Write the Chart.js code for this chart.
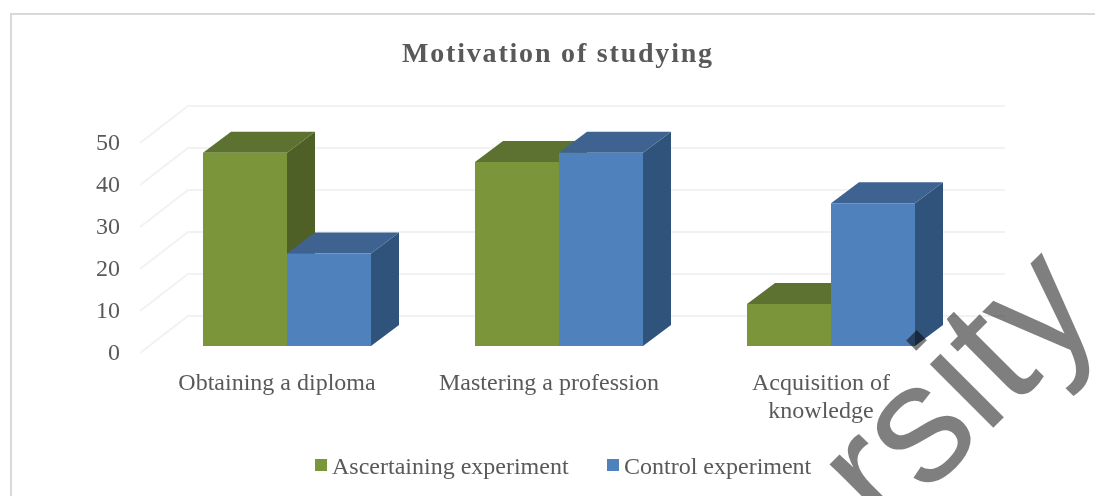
<!DOCTYPE html>
<html>
<head>
<meta charset="utf-8">
<title>Motivation of studying</title>
<script src="https://cdn.jsdelivr.net/npm/chart.js@4"></script>
<style>
    html, body { margin: 0; padding: 0; background: #fff; overflow: hidden; }
    #wrap { position: relative; width: 1095px; height: 496px; filter: blur(0.5px); }
    #chart { position: absolute; left: 0; top: 0; }
    #legend { position: absolute; left: 315px; top: 452px; font: 24px 'Liberation Serif', serif; color: #595959; white-space: nowrap; line-height: 28px; }
    #legend span { position: absolute; top: 0; }
    #legend i { position: absolute; width: 12px; height: 12px; top: 7px; }
</style>
</head>
<body>
<div id="wrap">
    <canvas id="chart" width="1095" height="496"></canvas>
    <div id="legend"></div>
</div>
<script>
const titleText = 'Motivation of studying';
const categories = ['Obtaining a diploma', 'Mastering a profession', ['Acquisition of', 'knowledge']];
const seriesNames = ['Ascertaining experiment', 'Control experiment'];
const ascertaining = [46, 43.8, 10];
const control = [22, 46, 34];
const yTicks = [0, 10, 20, 30, 40, 50];
const watermarkText = 'rsity';

const frontColors = ['#7a953a', '#4f81bd'];
const topColors = ['#5d7230', '#3e6390'];
const sideColors = ['#4e6026', '#30537c'];
const legendOffsets = [0, 292];

const depthX = 28, depthY = 21;

// side and top faces, the front face is the bar itself
const barDepth = {
    id: 'barDepth',
    beforeDatasetsDraw(chart) {
        const c = chart.ctx;
        chart.data.datasets.forEach((ds, i) => {
            chart.getDatasetMeta(i).data.forEach(bar => {
                const l = bar.x - bar.width / 2, r = bar.x + bar.width / 2;
                c.fillStyle = sideColors[i];
                c.beginPath();
                c.moveTo(r, bar.y);
                c.lineTo(r + depthX, bar.y - depthY);
                c.lineTo(r + depthX, bar.base - depthY);
                c.lineTo(r, bar.base);
                c.fill();
                c.fillStyle = topColors[i];
                c.beginPath();
                c.moveTo(l, bar.y);
                c.lineTo(l + depthX, bar.y - depthY);
                c.lineTo(r + depthX, bar.y - depthY);
                c.lineTo(r, bar.y);
                c.fill();
            });
        });
    }
};

// chart frame, back wall and side wall grid lines
const chartWalls = {
    id: 'chartWalls',
    beforeDraw(chart) {
        const c = chart.ctx, area = chart.chartArea, y = chart.scales.y;
        c.save();
        c.fillStyle = '#fff';
        c.fillRect(0, 0, chart.width, chart.height);
        c.strokeStyle = '#d9d9d9';
        c.lineWidth = 2;
        c.beginPath();
        c.moveTo(11, chart.height);
        c.lineTo(11, 14);
        c.lineTo(chart.width, 14);
        c.stroke();
        c.strokeStyle = '#f2f2f2';
        yTicks.forEach(t => {
            const py = y.getPixelForValue(t);
            c.beginPath();
            c.moveTo(area.left - 11, py + 7);
            c.lineTo(area.left + 37, py - 30);
            c.lineTo(area.right + 38, py - 30);
            c.stroke();
        });
        c.restore();
    }
};

const watermark = {
    id: 'watermark',
    afterDraw(chart) {
        const c = chart.ctx;
        c.save();
        c.translate(885, 536);
        c.rotate(-Math.PI / 4);
        c.font = '170px "Liberation Sans", sans-serif';
        c.fillStyle = 'rgba(0, 0, 0, 0.5)';
        c.textBaseline = 'alphabetic';
        c.fillText(watermarkText, 0, 0);
        c.restore();
    }
};

// the title plugin has no letter spacing option, and it should centre on the wall not the full width
const titleTweaks = {
    id: 'titleTweaks',
    afterInit(chart) {
        const title = chart.titleBlock;
        const draw = title.draw;
        title.draw = function () {
            this.ctx.save();
            this.ctx.letterSpacing = '1.8px';
            draw.call(this);
            this.ctx.restore();
        };
    },
    afterLayout(chart) {
        chart.titleBlock.left = chart.chartArea.left - 2;
        chart.titleBlock.right = chart.chartArea.right;
    }
};

Chart.defaults.font.family = "'Liberation Serif', serif";
Chart.defaults.color = '#595959';

new Chart(document.getElementById('chart'), {
    type: 'bar',
    data: {
        labels: categories,
        datasets: [
            { label: seriesNames[0], data: ascertaining, backgroundColor: frontColors[0] },
            { label: seriesNames[1], data: control, backgroundColor: frontColors[1] }
        ]
    },
    options: {
        responsive: false,
        animation: false,
        layout: { autoPadding: false, padding: { left: 0, right: 128, top: 0, bottom: 0 } },
        categoryPercentage: 168 / 272,
        barPercentage: 1,
        scales: {
            x: {
                grid: { display: false, drawTicks: false },
                border: { display: false },
                afterFit: s => { s.height = 150; },
                ticks: { font: { size: 24 }, padding: 23, labelOffset: -10, maxRotation: 0, autoSkip: false, color: '#595959' }
            },
            y: {
                min: 0,
                max: 50,
                grid: { display: false, drawTicks: false },
                border: { display: false },
                afterFit: s => { s.width = 151; },
                ticks: { font: { size: 24 }, stepSize: 10, padding: 31, labelOffset: 8, color: '#595959' }
            }
        },
        plugins: {
            legend: { display: false },
            tooltip: { enabled: false },
            title: {
                display: true,
                text: titleText,
                color: '#595959',
                font: { size: 28, weight: 'bold' },
                padding: { top: 38, bottom: 64.4 }
            }
        }
    },
    plugins: [chartWalls, barDepth, titleTweaks, watermark]
});

const legendEl = document.getElementById('legend');
seriesNames.forEach((name, i) => {
    const box = document.createElement('i');
    box.style.left = legendOffsets[i] + 'px';
    box.style.background = frontColors[i];
    const text = document.createElement('span');
    text.style.left = (legendOffsets[i] + 17) + 'px';
    text.textContent = name;
    legendEl.append(box, text);
});
</script>
</body>
</html>
